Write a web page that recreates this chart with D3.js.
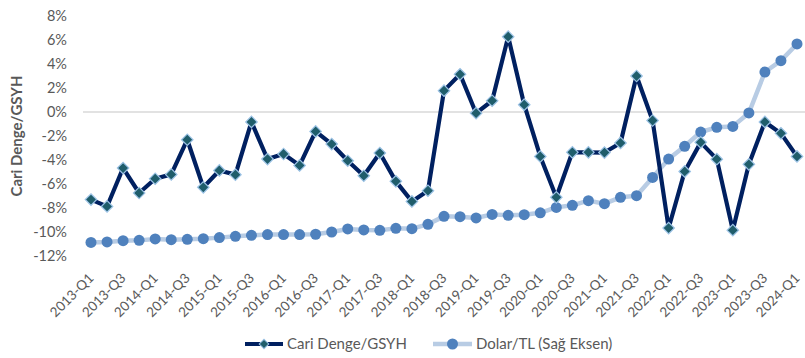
<!DOCTYPE html>
<html>
<head>
<meta charset="utf-8">
<script src="https://cdn.jsdelivr.net/npm/d3@7"></script>
<style>
  html, body { margin: 0; padding: 0; background: #fff; }
  svg { display: block; font-family: Lato, "Open Sans", sans-serif; }
</style>
</head>
<body>
<svg id="chart" width="805" height="358"></svg>
<script>
// Quarters 2013-Q1 .. 2024-Q1
const quarters = [];
for (let y = 2013; y <= 2024; y++) {
  for (let q = 1; q <= 4; q++) {
    if (y === 2024 && q > 1) break;
    quarters.push(`${y}-Q${q}`);
  }
}

// Current account balance / GDP (%)
const cariDenge = [
  -7.3, -7.87, -4.67, -6.75,
  -5.56, -5.2, -2.31, -6.28,
  -4.87, -5.22, -0.83, -3.92,
  -3.5, -4.45, -1.62, -2.67,
  -4.06, -5.31, -3.42, -5.78,
  -7.45, -6.56, 1.78, 3.14,
  -0.1, 0.94, 6.28, 0.61,
  -3.7, -7.11, -3.36, -3.36,
  -3.38, -2.58, 3.0, -0.71,
  -9.67, -4.95, -2.53, -3.93,
  -9.85, -4.36, -0.83, -1.78,
  -3.7
];

// USD/TRY rate (right axis)
const dolarTL = [
  1.98, 2.05, 2.24, 2.28,
  2.49, 2.38, 2.43, 2.52,
  2.68, 2.87, 3.01, 3.12,
  3.12, 3.12, 3.17, 3.50,
  3.94, 3.80, 3.75, 4.03,
  3.99, 4.62, 5.78, 5.74,
  5.55, 6.07, 5.93, 6.02,
  6.30, 7.09, 7.39, 8.07,
  7.63, 8.56, 8.80, 11.46,
  14.14, 16.00, 18.08, 18.76,
  18.90, 20.86, 26.83, 28.49,
  30.92
];

const yTicks = [-12, -10, -8, -6, -4, -2, 0, 2, 4, 6, 8];
const xTickLabels = quarters.filter((d, i) => i % 2 === 0);

const seriesNames = ["Cari Denge/GSYH", "Dolar/TL (Sağ Eksen)"];
const colors = {
  cariLine: "#002060",
  cariMarker: "#1F5D6B",
  cariMarkerStroke: "#9DC3E6",
  dolarLine: "#B8CCE4",
  dolarMarker: "#4F81BD",
  text: "#595959",
  grid: "#D9D9D9"
};

const svg = d3.select("#chart");

const x = d3.scalePoint()
  .domain(quarters)
  .range([91, 797]);

const y = d3.scaleLinear()
  .domain([-12, 8])
  .range([256, 16]);

const yRight = d3.scaleLinear()
  .domain([0, 35])
  .range([256, 16]);

// Left axis labels
const yAxis = d3.axisLeft(y)
  .tickValues(yTicks)
  .tickFormat(d => d + "%")
  .tickSize(0)
  .tickPadding(0);

const yAxisG = svg.append("g")
  .attr("transform", "translate(67,0)")
  .call(yAxis);
yAxisG.select(".domain").remove();
yAxisG.selectAll("text")
  .attr("fill", colors.text)
  .attr("font-size", 14.5)
  .attr("font-family", "Lato, 'Open Sans', sans-serif");

// Zero gridline
svg.append("line")
  .attr("x1", 83).attr("x2", 805)
  .attr("y1", y(0)).attr("y2", y(0))
  .attr("stroke", colors.grid)
  .attr("stroke-width", 1.3);

// Bottom axis labels, rotated
const xAxis = d3.axisBottom(x)
  .tickValues(xTickLabels)
  .tickSize(0)
  .tickPadding(0);

const xAxisG = svg.append("g")
  .attr("transform", "translate(0,262)")
  .call(xAxis);
xAxisG.select(".domain").remove();
xAxisG.selectAll("text")
  .attr("fill", colors.text)
  .attr("font-size", 13.5)
  .attr("font-family", "Lato, 'Open Sans', sans-serif")
  .attr("text-anchor", "end")
  .attr("dy", 0)
  .attr("y", 0)
  .attr("transform", "translate(3,17) rotate(-45)");

// Y axis title
svg.append("text")
  .attr("transform", `translate(22,${y(-2)}) rotate(-90)`)
  .attr("text-anchor", "middle")
  .attr("fill", colors.text)
  .attr("font-size", 15)
  .attr("font-weight", "bold")
  .text("Cari Denge/GSYH");

// Dolar/TL series
const dolarLine = d3.line()
  .x((d, i) => x(quarters[i]))
  .y(d => yRight(d));

svg.append("path")
  .datum(dolarTL)
  .attr("d", dolarLine)
  .attr("fill", "none")
  .attr("stroke", colors.dolarLine)
  .attr("stroke-width", 4.5)
  .attr("stroke-linejoin", "round");

svg.append("g")
  .selectAll("circle")
  .data(dolarTL)
  .join("circle")
  .attr("cx", (d, i) => x(quarters[i]))
  .attr("cy", d => yRight(d))
  .attr("r", 5.5)
  .attr("fill", colors.dolarMarker);

// Current account series
const cariLine = d3.line()
  .x((d, i) => x(quarters[i]))
  .y(d => y(d));

svg.append("path")
  .datum(cariDenge)
  .attr("d", cariLine)
  .attr("fill", "none")
  .attr("stroke", colors.cariLine)
  .attr("stroke-width", 4.2)
  .attr("stroke-linejoin", "round");

const diamond = d3.symbol().type(d3.symbolSquare).size(66);

svg.append("g")
  .selectAll("path")
  .data(cariDenge)
  .join("path")
  .attr("d", diamond)
  .attr("transform", (d, i) => `translate(${x(quarters[i])},${y(d)}) rotate(45)`)
  .attr("fill", colors.cariMarker)
  .attr("stroke", colors.cariMarkerStroke)
  .attr("stroke-width", 1.2);

// Legend
const legend = svg.append("g").attr("font-size", 15).attr("fill", colors.text);

const lg1 = legend.append("g").attr("transform", "translate(245,344)");
lg1.append("line").attr("x1", 0).attr("x2", 38).attr("y1", 0).attr("y2", 0)
  .attr("stroke", colors.cariLine).attr("stroke-width", 4);
lg1.append("path").attr("d", d3.symbol().type(d3.symbolSquare).size(46))
  .attr("transform", "translate(19,0) rotate(45)")
  .attr("fill", colors.cariMarker).attr("stroke", colors.cariMarkerStroke).attr("stroke-width", 1);
lg1.append("text").attr("x", 42).attr("y", 0).attr("dy", "0.35em")
  .attr("fill", colors.text).text(seriesNames[0]);

const lg2 = legend.append("g").attr("transform", "translate(433,344)");
lg2.append("line").attr("x1", 0).attr("x2", 39).attr("y1", 0).attr("y2", 0)
  .attr("stroke", colors.dolarLine).attr("stroke-width", 4.5);
lg2.append("circle").attr("cx", 19.5).attr("cy", 0).attr("r", 5.5)
  .attr("fill", colors.dolarMarker);
lg2.append("text").attr("x", 43).attr("y", 0).attr("dy", "0.35em")
  .attr("fill", colors.text).text(seriesNames[1]);
</script>
</body>
</html>
